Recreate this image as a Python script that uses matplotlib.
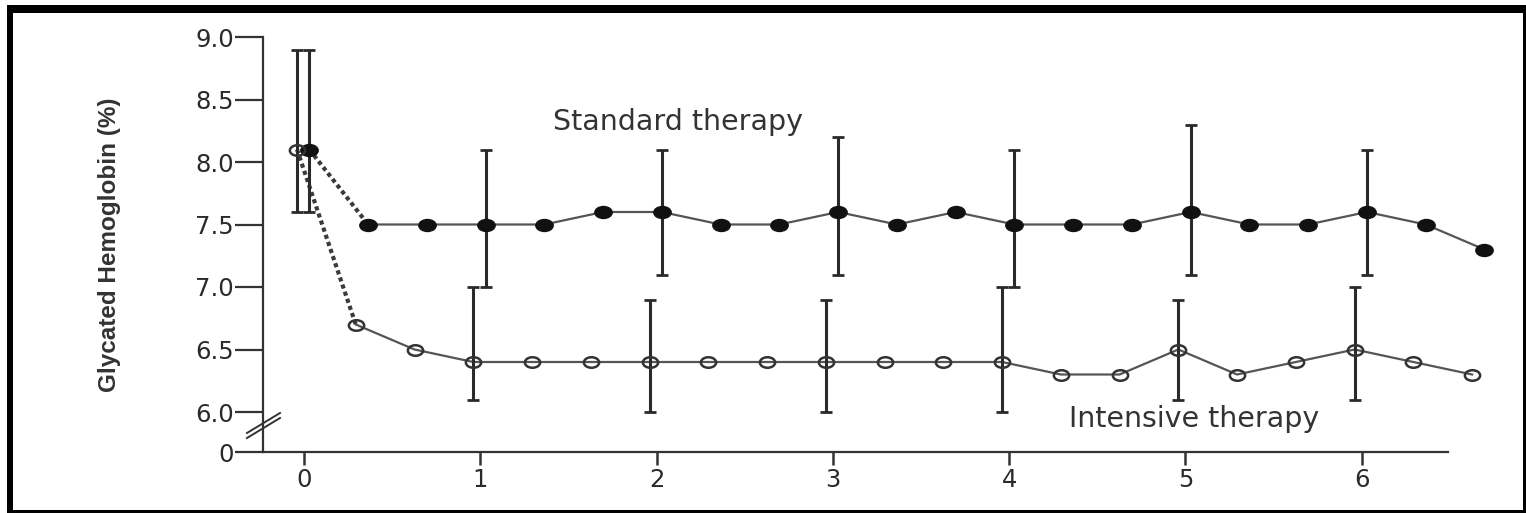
import numpy as np
import matplotlib.pyplot as plt
from matplotlib.path import Path
from matplotlib.markers import MarkerStyle
from matplotlib.lines import Line2D
from matplotlib.patches import Rectangle

# visit times (months) and mean HbA1c values
months = [0, 4, 8, 12, 16, 20, 24, 28, 32, 36, 40, 44, 48, 52, 56, 60, 64, 68, 72, 76, 80]
standard = [8.1, 7.5, 7.5, 7.5, 7.5, 7.6, 7.6, 7.5, 7.5, 7.6, 7.5, 7.6, 7.5, 7.5, 7.5, 7.6, 7.5, 7.5, 7.6, 7.5, 7.3]
intensive = [8.1, 6.7, 6.5, 6.4, 6.4, 6.4, 6.4, 6.4, 6.4, 6.4, 6.4, 6.4, 6.4, 6.3, 6.3, 6.5, 6.3, 6.4, 6.5, 6.4, 6.3]

# error bars at whole years
bar_years = [0, 1, 2, 3, 4, 5, 6]
standard_lo = [7.6, 7.0, 7.1, 7.1, 7.0, 7.1, 7.1]
standard_hi = [8.9, 8.1, 8.1, 8.2, 8.1, 8.3, 8.1]
intensive_lo = [7.6, 6.1, 6.0, 6.0, 6.0, 6.1, 6.1]
intensive_hi = [8.9, 7.0, 6.9, 6.9, 7.0, 6.9, 7.0]

ytick_vals = [6.0, 6.5, 7.0, 7.5, 8.0, 8.5, 9.0]
ytick_labels = ['6.0', '6.5', '7.0', '7.5', '8.0', '8.5', '9.0']
xtick_vals = [0, 1, 2, 3, 4, 5, 6]

axis_floor = 5.68  # where the broken axis shows "0"

W, H = 1526, 513
fig = plt.figure(figsize=(W / 100, H / 100), dpi=100)
ax = fig.add_axes([263 / W, 1 - 452 / H, (1448 - 263) / W, (452 - 37) / H])

ink = '#2a2a2a'
line_col = '#555555'

# ellipse markers (the original is stretched sideways)
circ = Path.unit_circle()
ellipse = MarkerStyle(Path(circ.vertices * [1.45, 1.0], circ.codes))

years = np.array(months) / 12.0
x_std = years + 0.03
x_int = years - 0.04

# connecting lines; first segment is drawn dashed
ax.plot(x_std[1:], standard[1:], color=line_col, lw=1.6, zorder=2, clip_on=False)
ax.plot(x_int[1:], intensive[1:], color=line_col, lw=1.6, zorder=2, clip_on=False)
ax.plot(x_std[:2], standard[:2], color='#3a3a3a', lw=3, ls=(0, (1.0, 0.8)), zorder=2)
ax.plot(x_int[:2], intensive[:2], color='#3a3a3a', lw=3, ls=(0, (1.0, 0.8)), zorder=2)

# error bars
by = np.array(bar_years, dtype=float)
s_mean = np.array([standard[months.index(y * 12)] for y in bar_years])
i_mean = np.array([intensive[months.index(y * 12)] for y in bar_years])
ax.errorbar(by + 0.03, s_mean, yerr=[s_mean - np.array(standard_lo), np.array(standard_hi) - s_mean],
            fmt='none', ecolor=ink, elinewidth=2.2, capsize=4, capthick=2, zorder=3)
ax.errorbar(by - 0.04, i_mean, yerr=[i_mean - np.array(intensive_lo), np.array(intensive_hi) - i_mean],
            fmt='none', ecolor=ink, elinewidth=2.2, capsize=4, capthick=2, zorder=3)

# markers
ax.plot(x_std, standard, ls='none', marker=ellipse, ms=12.5, color='#111111', zorder=4, clip_on=False)
ax.plot(x_int, intensive, ls='none', marker=ellipse, ms=11, mfc='none', mec='#333333', mew=1.8,
        zorder=4, clip_on=False)

# axes
ax.set_xlim(-0.233, 6.49)
ax.set_ylim(axis_floor, 9.0)
ax.set_yticks([axis_floor] + ytick_vals)
ax.set_yticklabels(['0'] + ytick_labels)
ax.set_xticks(xtick_vals)
ax.set_xticklabels([str(v) for v in xtick_vals])
for s in ['top', 'right']:
    ax.spines[s].set_visible(False)
for s in ['left', 'bottom']:
    ax.spines[s].set_linewidth(1.6)
    ax.spines[s].set_color('#333333')
ax.tick_params(axis='y', length=20, width=1.6, color='#333333', pad=1, labelsize=17.5, labelcolor=ink)
ax.tick_params(axis='x', length=9.5, width=1.8, color='#333333', pad=2, labelsize=17.5, labelcolor=ink)

# text labels
ax.text(2.12, 8.32, 'Standard therapy', fontsize=20.5, color='#333333', ha='center', va='center')
ax.text(5.05, 5.94, 'Intensive therapy', fontsize=20.5, color='#333333', ha='center', va='center',
        clip_on=False)

fig.text(110 / W, 1 - 245 / H, 'Glycated Hemoglobin (%)', rotation=90, ha='center', va='center',
         fontsize=17.5, fontweight='bold', color='#333333',
         family=['Liberation Sans', 'DejaVu Sans'])

# axis break marks
for dy in (0, 5):
    fig.add_artist(Line2D([247 / W, 280 / W], [1 - (433 + dy) / H, 1 - (413 + dy) / H],
                          color='#333333', lw=1.4))

# black frame around the figure
frame = [(7, 5, W - 7, 8), (7, 5, 6, H - 5), (W - 3, 5, 3, H - 5), (7, H - 3, W - 7, 3)]
for x0, y0, w, h in frame:
    fig.add_artist(Rectangle((x0 / W, 1 - (y0 + h) / H), w / W, h / H,
                             transform=fig.transFigure, color='black', lw=0))

fig.savefig('out.png', dpi=100)
